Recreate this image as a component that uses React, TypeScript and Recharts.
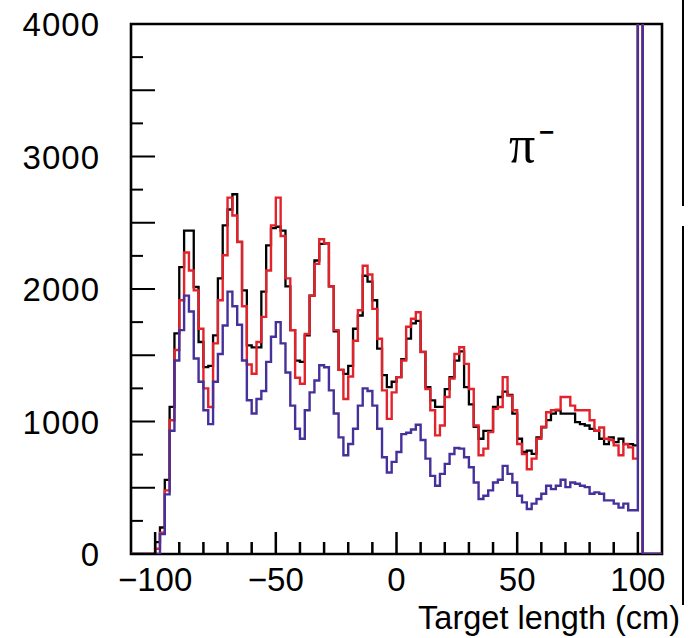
import { LineChart, Line, XAxis, YAxis, ReferenceArea } from 'recharts';

// lower edge of each 2 cm bin
const binLow = [
  -100, -98, -96, -94, -92, -90, -88, -86, -84, -82,
  -80, -78, -76, -74, -72, -70, -68, -66, -64, -62,
  -60, -58, -56, -54, -52, -50, -48, -46, -44, -42,
  -40, -38, -36, -34, -32, -30, -28, -26, -24, -22,
  -20, -18, -16, -14, -12, -10, -8, -6, -4, -2,
  0, 2, 4, 6, 8, 10, 12, 14, 16, 18,
  20, 22, 24, 26, 28, 30, 32, 34, 36, 38,
  40, 42, 44, 46, 48, 50, 52, 54, 56, 58,
  60, 62, 64, 66, 68, 70, 72, 74, 76, 78,
  80, 82, 84, 86, 88, 90, 92, 94, 96, 98,
  100,
];

const blackCounts = [
  90, 200, 560, 1110, 1665, 2165, 2440, 2440, 2015, 1600,
  1410, 1420, 1650, 2080, 2480, 2600, 2715, 2355, 1990, 1575,
  1560, 1560, 1980, 2330, 2460, 2470, 2440, 2020, 1690, 1460,
  1450, 1650, 1950, 2215, 2340, 2345, 2020, 1680, 1390, 1360,
  1420, 1700, 1800, 2100, 2055, 1915, 1550, 1350, 1260, 1300,
  1335, 1470, 1625, 1740, 1760, 1525, 1260, 1160, 1110, 1110,
  1245, 1335, 1460, 1530, 1260, 1130, 960, 870, 930, 930,
  1110, 1185, 1225, 1200, 1060, 870, 770, 780, 755, 880,
  955, 1010, 1060, 1085, 1060, 1060, 1060, 995, 980, 970,
  945, 930, 870, 830, 880, 845, 870, 830, 830, 820,
  6000,
];

const redCounts = [
  40, 160, 480, 1010, 1540, 1915, 2275, 2140, 1990, 1700,
  1250, 1110, 1590, 1915, 2255, 2690, 2555, 2355, 1870, 1430,
  1360, 1600, 1790, 2140, 2480, 2690, 2400, 2080, 1690, 1330,
  1285, 1660, 1950, 2190, 2375, 2345, 2020, 1690, 1390, 1170,
  1340, 1610, 1840, 2175, 2110, 1850, 1625, 1235, 1020, 1220,
  1335, 1460, 1715, 1775, 1825, 1525, 1245, 1085, 895, 970,
  1185, 1325, 1510, 1560, 1435, 1245, 970, 745, 795, 920,
  1095, 1110, 1335, 1195, 1085, 830, 755, 640, 720, 870,
  960, 1070, 1085, 1090, 1185, 1185, 1120, 1085, 1085, 1085,
  1010, 930, 955, 870, 860, 820, 745, 830, 805, 720,
  6000,
];

const blueCounts = [
  0, 150, 450, 930, 1460, 1690, 1950, 1830, 1475, 1300,
  1085, 980, 1300, 1510, 1725, 1980, 1870, 1730, 1460, 1160,
  1060, 1170, 1230, 1450, 1640, 1750, 1590, 1370, 1120, 945,
  870, 1085, 1220, 1310, 1425, 1410, 1235, 1060, 880, 745,
  830, 945, 1120, 1250, 1230, 1120, 945, 730, 615, 695,
  770, 905, 915, 940, 975, 860, 720, 590, 515, 605,
  680, 755, 800, 795, 730, 655, 540, 415, 440, 480,
  540, 560, 665, 605, 540, 440, 390, 340, 380, 415,
  455, 515, 490, 515, 560, 505, 540, 530, 515, 505,
  455, 465, 455, 405, 405, 380, 350, 380, 330, 330,
  6000,
];

const xTicks = [-100, -90, -80, -70, -60, -50, -40, -30, -20, -10, 0, 10, 20, 30, 40, 50, 60, 70, 80, 90, 100];
const yTicks = [0, 250, 500, 750, 1000, 1250, 1500, 1750, 2000, 2250, 2500, 2750, 3000, 3250, 3500, 3750, 4000];

const FONT = '"Liberation Sans", Arial, sans-serif';
const SERIF = '"Liberation Serif", "DejaVu Serif", serif';

const W = 691;
const H = 638;
const MARGIN = { top: 24, right: 29, bottom: 24, left: 0 };
const Y_AXIS_W = 131;
const X_AXIS_H = 60;
const X_DOMAIN: [number, number] = [-110, 110];

const data = [
  { x: -110, black: 0, red: 0, blue: 0 },
  ...binLow.map((x, i) => ({ x, black: blackCounts[i], red: redCounts[i], blue: blueCounts[i] })),
  { x: 102, black: 0, red: 0, blue: 0 },
  { x: 110, black: 0, red: 0, blue: 0 },
];

// x ticks point up into the frame, labels only every 50 cm
function XTick({ x, y, payload }: any) {
  const v = payload.value as number;
  const major = v % 50 === 0;
  return (
    <g>
      <rect x={x - 1.25} y={y - (major ? 22 : 12)} width={2.5} height={major ? 22 : 12} fill="#000" />
      {major ? (
        <text x={x} y={y + 37} textAnchor="middle" fontSize={33} fontFamily={FONT} fill="#000">
          {v < 0 ? `\u2212${Math.abs(v)}` : `${v}`}
        </text>
      ) : null}
    </g>
  );
}

function YTick({ x, y, payload }: any) {
  const v = payload.value as number;
  const long = v % 500 === 0;
  return (
    <g>
      <line x1={x} x2={x + (long ? 24 : 12)} y1={y} y2={y} stroke="#000" strokeWidth={2} />
      {v % 1000 === 0 ? (
        <text x={x - 31} y={y + 12} textAnchor="end" fontSize={33} letterSpacing={1} fontFamily={FONT} fill="#000">
          {v}
        </text>
      ) : null}
    </g>
  );
}

export default function App() {
  return (
    <div style={{ position: 'absolute', left: 0, top: 0, width: W, height: H, background: '#fff', overflow: 'hidden' }}>
      <LineChart width={W} height={H} data={data} margin={MARGIN}>
        <XAxis
          dataKey="x"
          type="number"
          domain={X_DOMAIN}
          ticks={xTicks}
          interval={0}
          axisLine={false}
          tickLine={false}
          tickSize={0}
          tickMargin={0}
          tick={<XTick />}
          height={X_AXIS_H}
        />
        <YAxis
          type="number"
          domain={[0, 4000]}
          allowDataOverflow
          ticks={yTicks}
          interval={0}
          axisLine={false}
          tickLine={false}
          tickSize={0}
          tickMargin={0}
          tick={<YTick />}
          width={Y_AXIS_W}
        />
        <Line type="stepAfter" dataKey="black" stroke="#000000" strokeWidth={2.3} dot={false} activeDot={false} isAnimationActive={false} />
        <Line type="stepAfter" dataKey="red" stroke="#e3232c" strokeWidth={2.4} dot={false} activeDot={false} isAnimationActive={false} />
        <Line type="stepAfter" dataKey="blue" stroke="#46309a" strokeWidth={2.4} dot={false} activeDot={false} isAnimationActive={false} />
        <ReferenceArea x1={-110} x2={110} y1={0} y2={4000} fill="none" stroke="#000" strokeWidth={2.6} />
      </LineChart>
      <div style={{ position: 'absolute', left: 509, top: 119, fontFamily: SERIF, fontSize: 52, lineHeight: 1, whiteSpace: 'nowrap' }}>
        π
      </div>
      <div style={{ position: 'absolute', left: 539, top: 119, fontFamily: FONT, fontSize: 26, fontWeight: 700, lineHeight: 1 }}>
        −
      </div>
      <div
        style={{
          position: 'absolute',
          right: 11,
          top: 602,
          fontFamily: FONT,
          fontSize: 32.5,
          lineHeight: 1,
          whiteSpace: 'nowrap',
          textAlign: 'right',
        }}
      >
        Target length (cm)
      </div>
      <div style={{ position: 'absolute', left: 682, top: 0, width: 2, height: 206, background: '#000' }} />
      <div style={{ position: 'absolute', left: 682, top: 226, width: 2, height: 379, background: '#000' }} />
    </div>
  );
}
